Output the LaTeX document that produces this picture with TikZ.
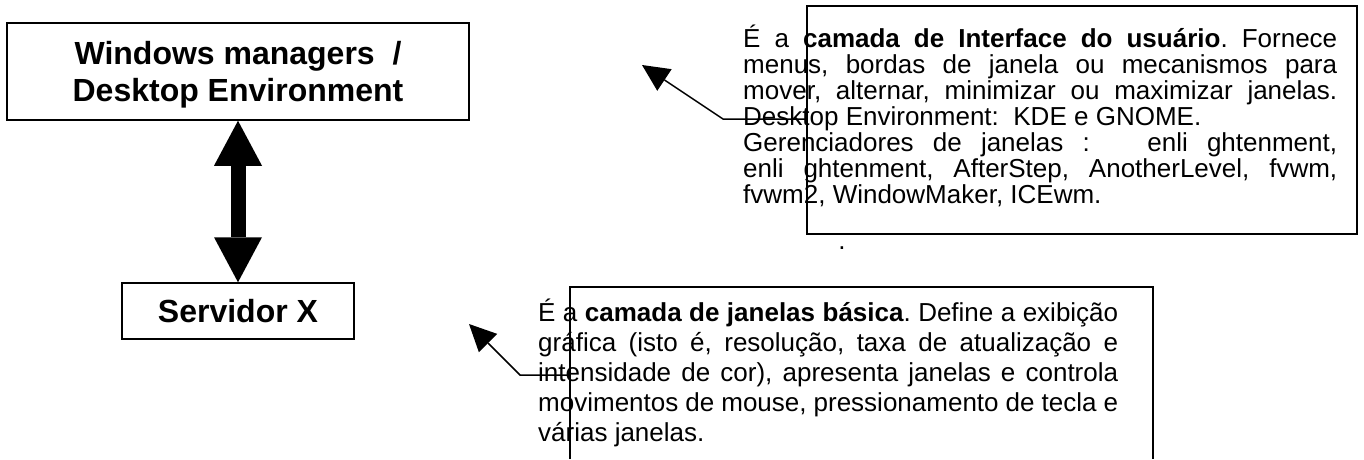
\documentclass[tikz,border=0pt]{standalone}
\usepackage{fontspec}
\setmainfont{Liberation Sans}
\usetikzlibrary{arrows.meta}
\frenchspacing
\begin{document}
\begin{tikzpicture}[x=1pt,y=-1pt,
  box/.style={draw,line width=1.5pt,inner sep=0pt,align=center},
  title/.style={font=\fontsize{32}{37}\selectfont\bfseries},
  bodyC/.style={anchor=base west,inner sep=0pt,font=\fontsize{26}{30}\selectfont},
  lead/.style={line width=1.5pt,-{Triangle[length=27pt,width=26pt,line width=0pt]}},
  dbl/.style={line width=15pt,{Triangle[length=45pt,width=48pt,line width=0pt]}-{Triangle[length=45pt,width=48pt,line width=0pt]}}
]
\useasboundingbox (0,0) rectangle (1364,459);
% left column
\node[box,title,minimum width=462pt,minimum height=97pt] (A) at (238,71.5) {\rule{0pt}{30pt}Windows managers\ \ /\\Desktop Environment};
\node[box,title,minimum width=232pt,minimum height=56pt] (B) at (238,311) {Servidor X};
\draw[dbl] (A.south) -- (B.north);
% top annotation
\node[box,minimum width=550pt,minimum height=228pt] (C) at (1082,120) {};
\node[bodyC] (c1) at (743,47) {\makebox[594pt][s]{É a \textbf{camada de Interface do usuário}. Fornece}};
\node[bodyC] (c2) at (743,73) {\makebox[594pt][s]{menus, bordas de janela ou mecanismos para}};
\node[bodyC] (c3) at (743,99) {\makebox[594pt][s]{mover, alternar, minimizar ou maximizar janelas.}};
\node[bodyC] (c4) at (743,125) {Desktop Environment:\ \ KDE e GNOME.};
\node[bodyC] (c5) at (743,151) {\makebox[594pt][s]{Gerenciadores de janelas :\ \ \ enli ghtenment,}};
\node[bodyC] (c6) at (743,177) {\makebox[594pt][s]{enli ghtenment, AfterStep, AnotherLevel, fvwm,}};
\node[bodyC] (c7) at (743,203) {fvwm2, WindowMaker, ICEwm.};
\node[bodyC,anchor=base] (c8) at (842,249) {.};
\coordinate (cb) at (723,119);
\coordinate (ct) at (642,65);
\draw[lead] (C.west |- cb) -- (cb) -- (ct);
% bottom annotation
\coordinate (Dbl) at (570,459);
\coordinate (Dtl) at (570,287);
\coordinate (Dtr) at (1153,287);
\coordinate (Dbr) at (1153,459);
\draw[line width=1.5pt] (Dbl) -- (Dtl) -- (Dtr) -- (Dbr);
\node[bodyC] (d1) at (538,321) {\makebox[580pt][s]{É a \textbf{camada de janelas básica}. Define a exibição}};
\node[bodyC] (d2) at (538,351) {\makebox[580pt][s]{gráfica (isto é, resolução, taxa de atualização e}};
\node[bodyC] (d3) at (538,381) {\makebox[580pt][s]{intensidade de cor), apresenta janelas e controla}};
\node[bodyC] (d4) at (538,411) {\makebox[580pt][s]{movimentos de mouse, pressionamento de tecla e}};
\node[bodyC] (d5) at (538,441) {várias janelas.};
\coordinate (Dl) at (570,375);
\coordinate (db) at (520,375);
\coordinate (dt) at (469,324);
\draw[lead] (Dl) -- (db) -- (dt);
\end{tikzpicture}
\end{document}
